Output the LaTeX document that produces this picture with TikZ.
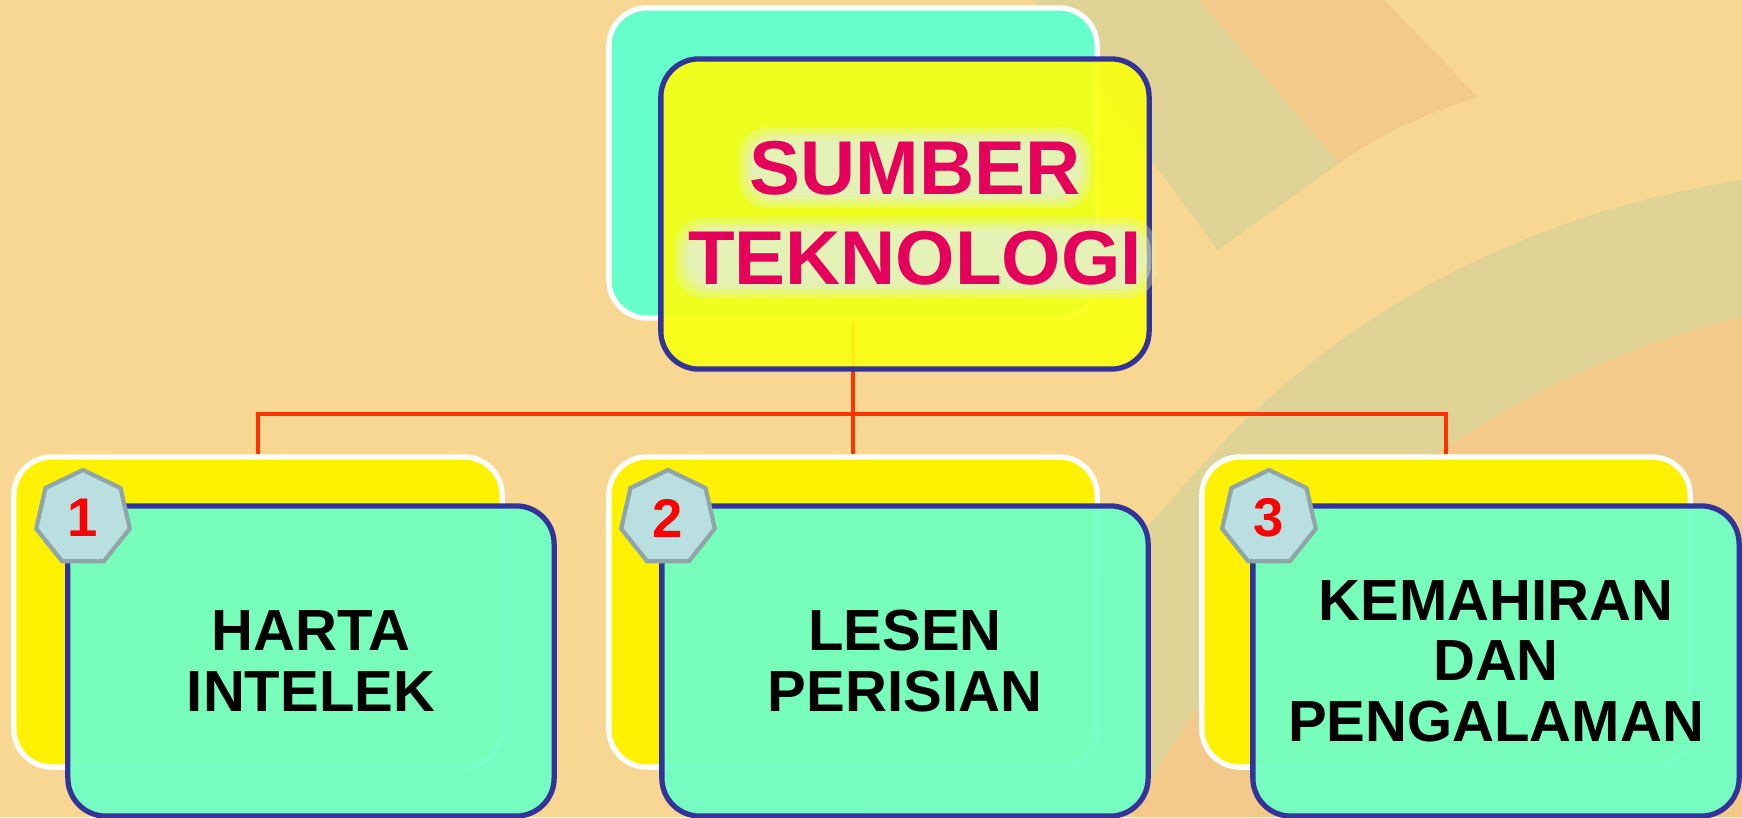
\documentclass[tikz,border=0pt]{standalone}
\usepackage{fontspec}
\setmainfont{Liberation Sans}
\usetikzlibrary{shapes.geometric}
\definecolor{bgwheat}{HTML}{F7D791}
\definecolor{bggrey}{HTML}{E0D396}
\definecolor{bgorange}{HTML}{F3CA8A}
\definecolor{boxblue}{HTML}{333399}
\definecolor{mint}{HTML}{70FFC4}
\definecolor{topcyan}{HTML}{66FFCC}
\definecolor{linkred}{HTML}{FF3300}
\definecolor{hepfill}{HTML}{BADFE1}
\definecolor{hepdraw}{HTML}{8FA5A7}
\definecolor{crimson}{HTML}{E4005B}
\definecolor{glow}{HTML}{E4F2C4}
\definecolor{frontyellow}{HTML}{FAFF12}
\pgfdeclarelayer{bgshapes}
\pgfdeclarelayer{links}
\pgfsetlayers{bgshapes,links,main}

\begin{document}
\begin{tikzpicture}[x=0.01cm, y=-0.01cm,
    backbox/.style={draw=white, line width=1.5pt, rounded corners=0.38cm,
      minimum width=4.88cm, minimum height=3.10cm},
    frontbox/.style={draw=boxblue, line width=1.5pt, rounded corners=0.38cm,
      minimum width=4.86cm, minimum height=3.10cm, fill opacity=0.95, text opacity=1,
      align=center, font=\bfseries\fontsize{16.5}{17.2}\selectfont},
    badge/.style={regular polygon, regular polygon sides=7, minimum size=0.96cm,
      inner sep=0pt, fill=hepfill, draw=hepdraw, line width=1.2pt, text=red,
      font=\bfseries\fontsize{15.5}{16}\selectfont},
    toptext/.style={align=center, font=\bfseries\fontsize{21.7}{25.6}\selectfont},
    link/.style={draw=linkred, line width=1.25pt}]
 \useasboundingbox (0,0) rectangle (1742,817);
 % background bands
 \begin{pgfonlayer}{bgshapes}
 \fill[bgwheat] (0,0) rectangle (1742,817);
 \fill[bggrey] (1033,0) -- (1199,0) -- (1339,163) -- (1218,250) -- cycle;
 \fill[bgorange] (1199,0) -- (1384,0) -- (1478,97)
   .. controls (1420,115) and (1380,135) .. (1339,163) -- cycle;
 \fill[bggrey] (860,817) -- (1147,527) .. controls (1190,480) and (1230,430) .. (1290,380)
   .. controls (1420,270) and (1580,205) .. (1742,180) -- (1742,317)
   .. controls (1600,350) and (1480,420) .. (1400,480)
   .. controls (1300,560) and (1220,660) .. (1130,817) -- cycle;
 \fill[bgorange] (1742,317) .. controls (1600,350) and (1480,420) .. (1400,480)
   .. controls (1300,560) and (1220,660) .. (1130,817) -- (1742,817) -- cycle;
 \end{pgfonlayer}

 % top box
 \node (TB) at (853,163) [backbox, fill=topcyan] {};
 \node (TF) at (905,214) [backbox, draw=boxblue, fill=frontyellow, fill opacity=0.92] {};
 \foreach \p/\o in {14/0.35, 9/0.4, 5/0.5, 1/0.6} {
   \fill[glow, opacity=\o, rounded corners=8pt] (753-\p,141-\p) rectangle (1078+\p,194+\p);
   \fill[glow, opacity=\o, rounded corners=8pt] (689-\p,232-\p) rectangle (1142+\p,284+\p);
 }
 \node (TT) at (915,213) [toptext, text=crimson] {SUMBER\\TEKNOLOGI};

 % lower boxes
 \node (B1) at (258,612) [backbox, fill=yellow] {};
 \node (B2) at (853,612) [backbox, fill=yellow] {};
 \node (B3) at (1446,612) [backbox, fill=yellow] {};
 \node (F1) at (311,661) [frontbox, fill=mint] {HARTA\\INTELEK};
 \node (F2) at (905,661) [frontbox, fill=mint] {LESEN\\PERISIAN};
 \node (F3) at (1496,661) [frontbox, fill=mint] {KEMAHIRAN\\DAN\\PENGALAMAN};
 \node (N1) at (83,518) [badge] {1};
 \node (N2) at (668,518) [badge] {2};
 \node (N3) at (1269,518) [badge] {3};

 % connectors
 \begin{pgfonlayer}{links}
 \coordinate (bus) at (853,414);
 \draw [link] (TB.south) -- (bus);
 \draw [link] (bus) -| (B1.north);
 \draw [link] (bus) -- (B2.north);
 \draw [link] (bus) -| (B3.north);
 \end{pgfonlayer}
\end{tikzpicture}
\end{document}
